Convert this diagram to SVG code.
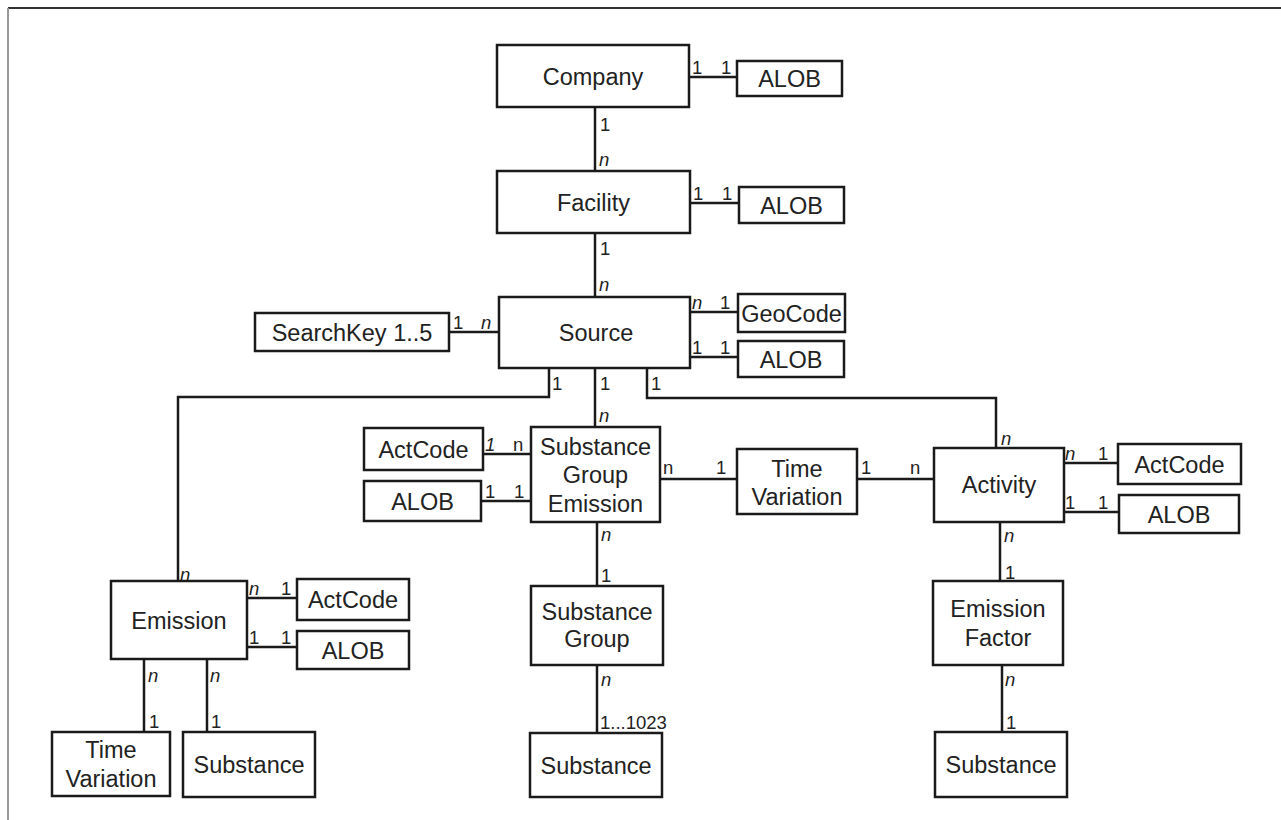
<svg xmlns="http://www.w3.org/2000/svg" width="1281" height="820" viewBox="0 0 1281 820">
<style>
.box{fill:#fff;stroke:#1a1a1a;stroke-width:2.5}
.t{font-family:"Liberation Sans",Arial,sans-serif;font-size:23.5px;fill:#222;text-anchor:middle}
.c{fill:none;stroke:#1a1a1a;stroke-width:2.5}
.l{font-family:"Liberation Sans",Arial,sans-serif;font-size:18.5px;fill:#222}
.i{font-style:italic}
</style>
<rect width="1281" height="820" fill="#fff"/>
<line x1="8" y1="8" x2="1281" y2="8" stroke="#333" stroke-width="2"/>
<line x1="8" y1="8" x2="8" y2="820" stroke="#999" stroke-width="2"/>

<g id="connectors">
<path class="c" d="M689 77H737"/>
<path class="c" d="M595 107V171"/>
<path class="c" d="M690 203H739"/>
<path class="c" d="M595 233V297"/>
<path class="c" d="M449 332H499"/>
<path class="c" d="M690 312H738"/>
<path class="c" d="M690 357H738"/>
<path class="c" d="M549 368V397H178V587"/>
<path class="c" d="M595 368V427"/>
<path class="c" d="M647 368V398H996V448"/>
<path class="c" d="M483 454H531"/>
<path class="c" d="M481 501H531"/>
<path class="c" d="M660 479H737"/>
<path class="c" d="M857 479H934"/>
<path class="c" d="M1064 463H1118"/>
<path class="c" d="M1064 512H1119"/>
<path class="c" d="M597 522V586"/>
<path class="c" d="M597 665V733"/>
<path class="c" d="M1000 522V581"/>
<path class="c" d="M1002 665V732"/>
<path class="c" d="M247 598H297"/>
<path class="c" d="M247 647H297"/>
<path class="c" d="M144 659V732"/>
<path class="c" d="M207 659V732"/>
<g id="labels">
<text class="l" x="692" y="74">1</text><text class="l" x="721" y="74">1</text>
<text class="l" x="600" y="131">1</text><text class="l i" x="599" y="166">n</text>
<text class="l" x="693" y="200">1</text><text class="l" x="722" y="200">1</text>
<text class="l" x="600" y="255">1</text><text class="l i" x="599" y="291">n</text>
<text class="l" x="453" y="329">1</text><text class="l i" x="481" y="329">n</text>
<text class="l i" x="692" y="309">n</text><text class="l" x="720" y="309">1</text>
<text class="l" x="692" y="354">1</text><text class="l" x="720" y="354">1</text>
<text class="l" x="552" y="390">1</text><text class="l i" x="180" y="581">n</text>
<text class="l" x="600" y="390">1</text><text class="l i" x="599" y="422">n</text>
<text class="l" x="651" y="390">1</text><text class="l i" x="1001" y="445">n</text>
<text class="l i" x="485" y="451">1</text><text class="l" x="513" y="451">n</text>
<text class="l" x="485" y="498">1</text><text class="l" x="514" y="498">1</text>
<text class="l" x="663" y="474">n</text><text class="l" x="716" y="474">1</text>
<text class="l" x="861" y="474">1</text><text class="l" x="910" y="474">n</text>
<text class="l i" x="1065" y="460">n</text><text class="l" x="1098" y="460">1</text>
<text class="l" x="1065" y="509">1</text><text class="l" x="1098" y="509">1</text>
<text class="l i" x="601" y="541">n</text><text class="l" x="601" y="582">1</text>
<text class="l i" x="601" y="686">n</text><text class="l" x="600" y="729">1...1023</text>
<text class="l i" x="1004" y="542">n</text><text class="l" x="1005" y="579">1</text>
<text class="l i" x="1005" y="686">n</text><text class="l" x="1006" y="729">1</text>
<text class="l i" x="249" y="595">n</text><text class="l" x="281" y="595">1</text>
<text class="l" x="249" y="644">1</text><text class="l" x="281" y="644">1</text>
<text class="l i" x="148" y="682">n</text><text class="l" x="149" y="728">1</text>
<text class="l i" x="210" y="682">n</text><text class="l" x="211" y="728">1</text>
</g>
</g>

<g id="company"><rect class="box" x="497" y="45" width="192" height="62"/><text class="t" x="593" y="85">Company</text></g>
<g id="alob-company"><rect class="box" x="737" y="61" width="105" height="35"/><text class="t" x="789.5" y="87">ALOB</text></g>
<g id="facility"><rect class="box" x="497" y="171" width="193" height="62"/><text class="t" x="593.5" y="211">Facility</text></g>
<g id="alob-facility"><rect class="box" x="739" y="187" width="105" height="36"/><text class="t" x="791.5" y="214">ALOB</text></g>
<g id="source"><rect class="box" x="499" y="297" width="191" height="71"/><text class="t" x="596" y="341">Source</text></g>
<g id="searchkey"><rect class="box" x="255" y="313" width="194" height="38"/><text class="t" x="352" y="341">SearchKey 1..5</text></g>
<g id="geocode"><rect class="box" x="738" y="294" width="107" height="38"/><text class="t" x="791.5" y="322">GeoCode</text></g>
<g id="alob-source"><rect class="box" x="738" y="341" width="106" height="36"/><text class="t" x="791" y="368">ALOB</text></g>
<g id="actcode-sge"><rect class="box" x="364" y="428" width="119" height="42"/><text class="t" x="423.5" y="458">ActCode</text></g>
<g id="alob-sge"><rect class="box" x="364" y="481" width="117" height="40"/><text class="t" x="422.5" y="510">ALOB</text></g>
<g id="sge"><rect class="box" x="531" y="427" width="129" height="95"/><text class="t" x="595.5" y="455">Substance</text><text class="t" x="595.5" y="483">Group</text><text class="t" x="595.5" y="512">Emission</text></g>
<g id="timevariation-mid"><rect class="box" x="737" y="449" width="120" height="65"/><text class="t" x="797" y="477">Time</text><text class="t" x="797" y="505">Variation</text></g>
<g id="activity"><rect class="box" x="934" y="448" width="130" height="74"/><text class="t" x="999" y="493">Activity</text></g>
<g id="actcode-activity"><rect class="box" x="1118" y="444" width="123" height="40"/><text class="t" x="1179.5" y="473">ActCode</text></g>
<g id="alob-activity"><rect class="box" x="1119" y="495" width="120" height="38"/><text class="t" x="1179" y="523">ALOB</text></g>
<g id="emission"><rect class="box" x="111" y="581" width="136" height="78"/><text class="t" x="179" y="629">Emission</text></g>
<g id="actcode-emission"><rect class="box" x="297" y="579" width="112" height="41"/><text class="t" x="353" y="608">ActCode</text></g>
<g id="alob-emission"><rect class="box" x="297" y="631" width="112" height="38"/><text class="t" x="353" y="659">ALOB</text></g>
<g id="timevariation-bottom"><rect class="box" x="52" y="732" width="118" height="64"/><text class="t" x="111" y="758">Time</text><text class="t" x="111" y="787">Variation</text></g>
<g id="substance-emission"><rect class="box" x="183" y="732" width="132" height="65"/><text class="t" x="249" y="773">Substance</text></g>
<g id="substance-group"><rect class="box" x="531" y="586" width="132" height="79"/><text class="t" x="597" y="620">Substance</text><text class="t" x="597" y="647">Group</text></g>
<g id="substance-sg"><rect class="box" x="530" y="733" width="132" height="64"/><text class="t" x="596" y="774">Substance</text></g>
<g id="emission-factor"><rect class="box" x="933" y="581" width="130" height="84"/><text class="t" x="998" y="617">Emission</text><text class="t" x="998" y="646">Factor</text></g>
<g id="substance-ef"><rect class="box" x="935" y="732" width="132" height="65"/><text class="t" x="1001" y="773">Substance</text></g>
</svg>
